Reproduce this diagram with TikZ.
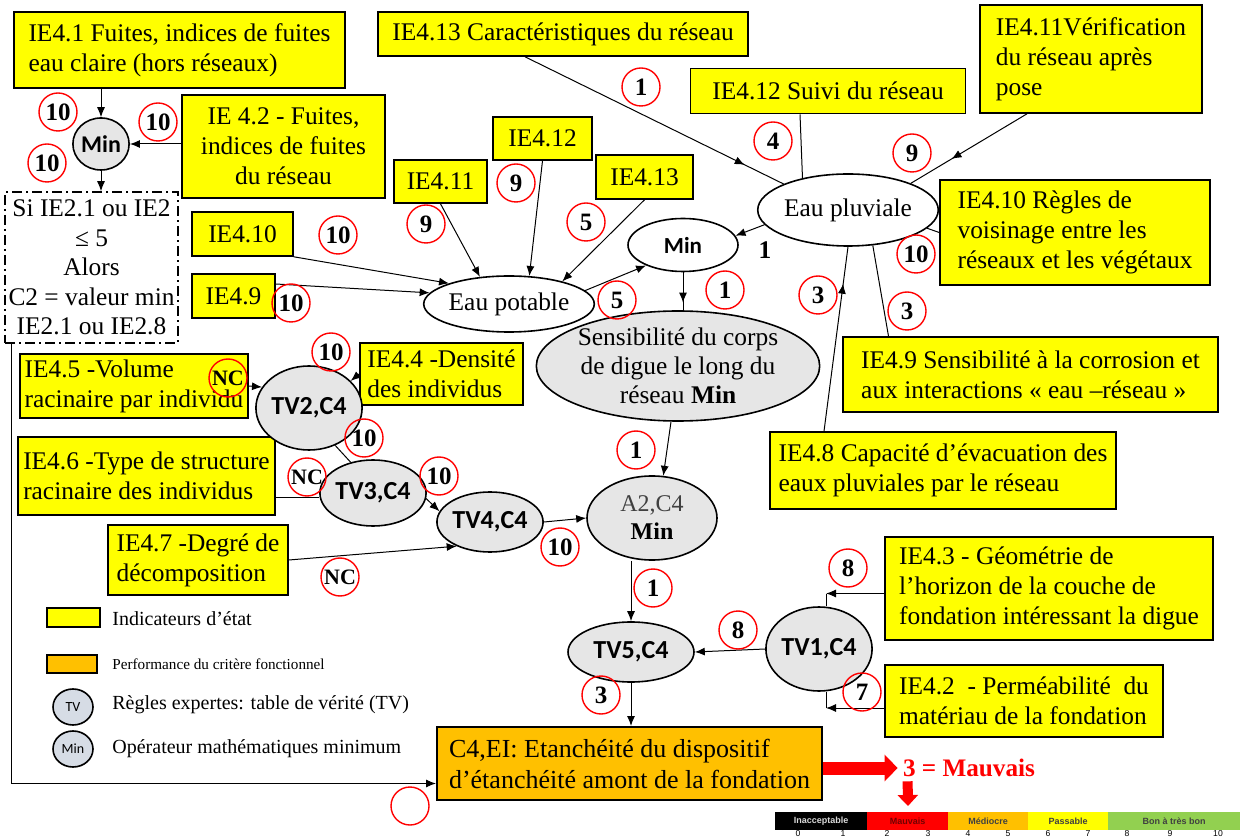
\documentclass[tikz,border=0pt]{standalone}
\usepackage{fontspec}
\setmainfont{Liberation Serif}
\newfontfamily\calib{Carlito}
\newfontfamily\arialf{Liberation Sans}
\usetikzlibrary{shapes.geometric,arrows.meta,decorations.markings}

\definecolor{ieyellow}{RGB}{255,255,0}
\definecolor{perforange}{RGB}{255,192,0}
\definecolor{tvgray}{RGB}{230,230,230}
\definecolor{leggray}{RGB}{214,220,229}
\definecolor{goodgreen}{RGB}{146,208,80}
\definecolor{badred}{RGB}{255,0,0}

\tikzset{
  ind/.style={draw, fill=ieyellow, line width=0.8pt, inner sep=2pt, font=\fontsize{12.7}{15}\selectfont},
  score/.style={circle, draw=red, line width=0.7pt, minimum size=19pt, inner sep=0pt, font=\fontsize{12.5}{14}\selectfont\bfseries},
  tvnode/.style={ellipse, draw, fill=tvgray, line width=0.8pt, inner sep=0pt, font=\calib\bfseries\fontsize{13}{14}\selectfont},
  opnode/.style={ellipse, draw, line width=0.8pt, inner sep=0pt, font=\fontsize{12.7}{14.5}\selectfont},
  arr/.style={line width=0.5pt, -{Latex[length=5pt,width=4pt]}},
  ln/.style={line width=0.5pt},
  midarrow/.style={ln, postaction={decorate}, decoration={markings, mark=at position #1 with {\arrow{Latex[length=5pt,width=4pt]}}}},
  legtext/.style={anchor=west, inner sep=0pt, font=\fontsize{10}{12}\selectfont},
  scaleseg/.style={minimum height=9pt, inner sep=0pt, font=\arialf\bfseries\fontsize{4.5}{5}\selectfont},
  scalenum/.style={anchor=south, inner sep=0pt, font=\arialf\fontsize{4.3}{5}\selectfont}
}

\begin{document}
\begin{tikzpicture}[x=0.5pt,y=-0.5pt]
\useasboundingbox (0,0) rectangle (1240,838);

% top left
\node[ind, minimum width=165.5pt, minimum height=38pt, align=left] (ie41) at (179.5,50) {IE4.1 Fuites, indices de fuites\\eau claire (hors réseaux)};
\node[ind, line width=1.2pt, minimum width=101.5pt, minimum height=51.5pt, align=center] (ie42t) at (283.5,146.5) {IE 4.2 - Fuites,\\indices de fuites\\du réseau};
\node[tvnode, font=\calib\bfseries\fontsize{12}{13}\selectfont, minimum width=28pt, minimum height=26pt] (minA) at (101,144) {Min};
\node[draw, dash pattern=on 5pt off 2pt on 1pt off 2pt, line width=0.8pt, minimum width=86.5pt, minimum height=75.5pt, inner sep=1pt, align=center, font=\fontsize{12.7}{14.75}\selectfont] (cond) at (91.5,267.5) {Si IE2.1 ou IE2\\≤ 5\\Alors\\C2 = valeur min\\IE2.1 ou IE2.8};

% network indicators
\node[ind, minimum width=185pt, minimum height=22pt] (ie413) at (563,34) {IE4.13 Caractéristiques du réseau};
\node[ind, minimum width=137.5pt, minimum height=22.5pt] (ie412) at (828,91) {IE4.12 Suivi du réseau};
\node[ind, minimum width=111pt, minimum height=54pt, align=left] (ie411) at (1091,59) {IE4.11Vérification\\du réseau après\\pose};
\node[ind, minimum width=135pt, minimum height=52.5pt, align=left] (ie410) at (1075,232.5) {IE4.10 Règles de\\voisinage entre les\\réseaux et les végétaux};
\node[ind, minimum width=187.5pt, minimum height=37.5pt, align=left] (ie49) at (1030.5,374.5) {IE4.9 Sensibilité à la corrosion et\\aux interactions « eau –réseau »};
\node[ind, minimum width=173pt, minimum height=38.5pt, align=left] (ie48) at (943,470.5) {IE4.8 Capacité d’évacuation des\\eaux pluviales par le réseau};
\node[ind, minimum width=50.5pt, minimum height=22pt] (ie410s) at (242.5,234) {IE4.10};
\node[ind, minimum width=41.5pt, minimum height=22pt] (ie49s) at (233.5,296) {IE4.9};
\node[ind, minimum width=46.5pt, minimum height=21.5pt] (ie411s) at (440.5,181.5) {IE4.11};
\node[ind, minimum width=49.5pt, minimum height=21.5pt] (ie412s) at (542.5,138.5) {IE4.12};
\node[ind, minimum width=48.5pt, minimum height=22pt] (ie413s) at (644.5,177) {IE4.13};

\node[opnode, minimum width=90pt, minimum height=36pt] (ep) at (848,210) {Eau pluviale};
\node[opnode, minimum width=67.5pt, minimum height=28pt] (epot) at (509,304) {Eau potable};
\node[opnode, font=\calib\bfseries\fontsize{11.5}{13}\selectfont, minimum width=55pt, minimum height=26.5pt] (min2) at (683,245) {Min};
\node[opnode, fill=tvgray, minimum width=133pt, minimum height=55pt, align=center] (sens) at (678,366) {Sensibilité du corps\\de digue le long du\\réseau \textbf{Min}};
\node[opnode, fill=tvgray, minimum width=65pt, minimum height=42pt, align=center, font=\fontsize{12}{14}\selectfont] (a2) at (652,518) {{\color{darkgray}A2,C4}\\\textbf{Min}};

% roots
\node[ind, minimum width=114pt, minimum height=32pt, align=left] (ie45) at (134,386) {IE4.5 -Volume\\racinaire par individu};
\node[ind, minimum width=81.5pt, minimum height=31pt, align=left] (ie44) at (441.5,374) {IE4.4 -Densité\\des individus};
\node[ind, minimum width=128.5pt, minimum height=39pt, align=left] (ie46) at (146.5,476) {IE4.6 -Type de structure\\racinaire des individus};
\node[ind, minimum width=90pt, minimum height=35pt, align=left] (ie47) at (198,560) {IE4.7 -Degré de\\décomposition};
\node[tvnode, minimum width=38pt, minimum height=42pt] (tv2) at (309,408) {TV2,C4};
\node[tvnode, minimum width=45pt, minimum height=33pt] (tv3) at (373,493) {TV3,C4};
\node[tvnode, minimum width=45pt, minimum height=30pt] (tv4) at (490,522) {TV4,C4};

% foundation
\node[ind, minimum width=164pt, minimum height=51.5pt, align=left] (ie43) at (1049,588.5) {IE4.3 - Géométrie de\\l’horizon de la couche de\\fondation intéressant la digue};
\node[ind, minimum width=139pt, minimum height=36pt, align=left] (ie42b) at (1024,701) {IE4.2 \ - Perméabilité \ du\\matériau de la fondation};
\node[tvnode, minimum width=39pt, minimum height=42pt] (tv1) at (819,649) {TV1,C4};
\node[tvnode, minimum width=63pt, minimum height=30pt] (tv5) at (631,652) {TV5,C4};
\node[draw, fill=perforange, line width=1pt, minimum width=192.5pt, minimum height=36.5pt, inner sep=2pt, align=left, font=\fontsize{13}{15.5}\selectfont] (c4) at (629.5,763.5) {C4,EI: Etanchéité du dispositif\\d’étanchéité amont de la fondation};

% connectors
\draw[arr] (minA.north |- ie41.south) -- (minA.north);
\draw[arr] (minA.east -| ie42t.west) -- (minA.east);
\draw[arr] (minA.south) -- (minA.south |- cond.north);
\draw[arr] ([xshift=3.5pt]cond.south west) |- ([yshift=-10pt]c4.west);

\draw[midarrow=0.85] ([xshift=-19pt]ie413.south) -- (ep.north west);
\draw[ln] ([xshift=-14pt]ie412.south) -- (ep.145);
\draw[midarrow=0.65] ([xshift=-32pt]ie411.south) -- (ep.23);
\draw[ln] (ie410.west) -- (ep.-13);
\draw[ln] ([xshift=-71pt]ie49.north) -- (ep.-55);
\draw[midarrow=0.8] ([xshift=-59.5pt]ie48.north) -- (ep.south);
\draw[arr] (ep.190) -- (min2.10);
\node[inner sep=0pt, font=\bfseries\fontsize{12.7}{14}\selectfont] (one) at (765,250) {1};

\draw[arr] (ie410s.south east) -- (epot.161);
\draw[arr] ([yshift=6pt]ie49s.east) -- (epot.172);
\draw[arr] (ie411s.south) -- (epot.137);
\draw[arr] (ie412s.south) -- (epot.54);
\draw[arr] (ie413s.south) -- (epot.23);
\draw[arr] (epot.10) -- (min2.209);
\draw[midarrow=0.8] (min2.south) -- (min2.south |- sens.north);
\draw[arr] ([xshift=-3.5pt]sens.south) -- (a2.75);

\draw[arr] (ie45.east) -- (tv2.156);
\draw[arr] (ie44.west) -- (tv2.33);
\draw[ln] (tv2.-55) -- (tv3.126);
\draw[ln] ([yshift=-2.5pt]ie46.east |- tv3.west) -- ([yshift=-2.5pt]tv3.west);
\draw[arr] (tv3.-6) -- (tv4.168);
\draw[arr] (ie47.east) -- (tv4.216);
\draw[arr] (tv4.east) -- (a2.west);
\draw[arr] (tv5.north |- a2.south) -- (tv5.north);
\draw[arr] (tv1.west) -- (tv5.east);
\draw[arr] (tv5.south) -- (tv5.south |- c4.north);

\coordinate (k43) at ([xshift=3.5pt,yshift=-2.5pt]tv1.north |- ie43.west);
\coordinate (k42) at ([xshift=3.5pt,yshift=-3.5pt]tv1.south |- ie42b.west);
\draw[ln] ([xshift=3.5pt]tv1.north) -- (k43);
\draw[arr] ([yshift=-2.5pt]ie43.west) -- (k43);
\draw[ln] ([xshift=3.5pt]tv1.south) -- (k42);
\draw[arr] ([yshift=-3.5pt]ie42b.west) -- (k42);

% scores
\foreach [count=\i] \xx/\yy/\v in {58/112/10, 158/122/10, 47/163/10, 641/87/1, 773/141/4, 912/153/9, 916/254/10, 907/311/3, 818/295/3, 338/235/10, 291/303/10, 426/224/9, 516/183/9, 586/222/5, 617/300/5, 725/290/1, 331/352/10, 364/438/10, 439/476/10, 560/547/10, 636/450/1, 653/588/1, 738/630/8, 848/568/8, 862/692/7, 601/695/3}
  \node[score] (sc\i) at (\xx,\yy) {\v};
\foreach [count=\i] \xx/\yy in {228/378, 307/477, 340/577}
  \node[score, font=\fontsize{11}{12}\selectfont\bfseries] (nc\i) at (\xx,\yy) {NC};
\node[score] (scempty) at (410,806) {};

% result
\node[inner sep=0pt, text=badred, font=\bfseries\fontsize{12.6}{14}\selectfont] (mauv) at (969,768) {3 = Mauvais};
\draw[badred, line width=6.5pt, -{Triangle[length=6.5pt,width=13pt]}] (c4.east |- mauv.west) -- ([xshift=-2.5pt]mauv.west);
\coordinate (scaletop) at (908,806);
\draw[badred, line width=5pt, -{Triangle[length=5.5pt,width=10pt]}] ([xshift=2.5pt,yshift=-2pt]mauv.south west) -- (scaletop);

\node[scaleseg, fill=black, text=white!85!black, minimum width=46pt] (sg1) at (821,821) {Inacceptable};
\node[scaleseg, fill=badred, text=red!45!black, minimum width=40.5pt] (sg2) at (907.5,821) {Mauvais};
\node[scaleseg, fill=perforange, text=black!75, minimum width=40pt] (sg3) at (988,821) {Médiocre};
\node[scaleseg, fill=ieyellow, text=black!75, minimum width=40pt] (sg4) at (1068,821) {Passable};
\node[scaleseg, fill=goodgreen, text=black!75, minimum width=66pt] (sg5) at (1174,821) {Bon à très bon};
\foreach \n/\xx in {0/798, 1/843, 2/887, 3/928, 4/968, 5/1008, 6/1048, 7/1088, 8/1127, 9/1170, 10/1218}
  \node[scalenum] (num\n) at (\xx,837) {\n};

% legend
\node[draw, fill=ieyellow, line width=0.8pt, minimum width=26.5pt, minimum height=9.5pt, inner sep=0pt] (legind) at (73.5,617.5) {};
\node[legtext] (legindt) at (112,619) {Indicateurs d’état};
\node[draw, fill=perforange, line width=0.8pt, minimum width=25pt, minimum height=9pt, inner sep=0pt] (legperf) at (72,664) {};
\node[legtext, font=\fontsize{7.6}{9}\selectfont] (legperft) at (112,664) {Performance du critère fonctionnel};
\node[ellipse, draw, fill=leggray, line width=0.8pt, minimum width=20pt, minimum height=18pt, inner sep=0pt, font=\calib\fontsize{7}{8}\selectfont] (legtv) at (73,707) {TV};
\node[legtext] (legtvt) at (112,705) {Règles expertes: table de vérité (TV)};
\node[ellipse, draw, fill=leggray, line width=0.8pt, minimum width=20pt, minimum height=18pt, inner sep=0pt, font=\calib\fontsize{7}{8}\selectfont] (legmin) at (73,749) {Min};
\node[legtext] (legmint) at (112,749) {Opérateur mathématiques minimum};
\end{tikzpicture}
\end{document}
